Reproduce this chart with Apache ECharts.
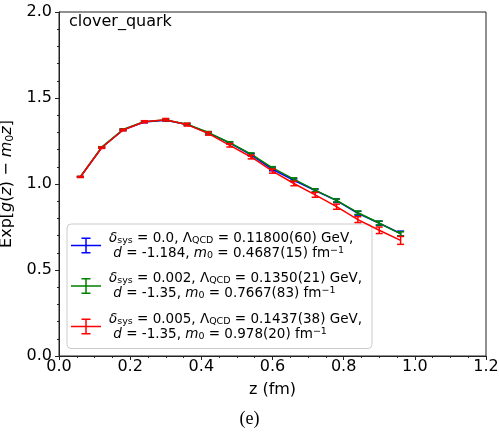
<!DOCTYPE html>
<html>
<head>
<meta charset="utf-8">
<script src="https://cdn.jsdelivr.net/npm/echarts@6/dist/echarts.min.js"></script>
<style>
  html, body { margin: 0; padding: 0; background: #fff; }
  #chart { width: 499px; height: 436px; }
</style>
</head>
<body>
<div id="chart"></div>
<script>
// Separation z (fm)
const zValues = [0.06, 0.12, 0.18, 0.24, 0.30, 0.36, 0.42, 0.48, 0.54, 0.60, 0.66, 0.72, 0.78, 0.84, 0.90, 0.96];

// Exp[g(z) - m0 z] for three values of delta_sys
const blueVals  = [1.041, 1.212, 1.315, 1.360, 1.370, 1.346, 1.297, 1.238, 1.170, 1.085, 1.022, 0.962, 0.903, 0.830, 0.772, 0.712];
const blueErr   = [0.002, 0.003, 0.004, 0.004, 0.005, 0.005, 0.006, 0.006, 0.007, 0.008, 0.008, 0.009, 0.010, 0.011, 0.012, 0.014];
const greenVals = [1.042, 1.214, 1.317, 1.363, 1.372, 1.348, 1.299, 1.240, 1.174, 1.094, 1.028, 0.964, 0.905, 0.833, 0.773, 0.710];
const greenErr  = [0.002, 0.003, 0.004, 0.004, 0.005, 0.005, 0.006, 0.006, 0.007, 0.007, 0.008, 0.008, 0.009, 0.010, 0.011, 0.012];
const redVals   = [1.041, 1.211, 1.314, 1.362, 1.374, 1.345, 1.293, 1.225, 1.157, 1.075, 1.003, 0.937, 0.868, 0.793, 0.731, 0.672];
const redErr    = [0.003, 0.004, 0.005, 0.006, 0.007, 0.008, 0.009, 0.010, 0.011, 0.012, 0.013, 0.014, 0.015, 0.017, 0.019, 0.023];

const xTicks = [0.0, 0.2, 0.4, 0.6, 0.8, 1.0, 1.2];
const yTicks = [0.0, 0.5, 1.0, 1.5, 2.0];

const seriesNames = ['blue', 'green', 'red'];
const seriesColors = ['#0000ff', '#008000', '#ff0000'];
const seriesVals = [blueVals, greenVals, redVals];
const seriesErrs = [blueErr, greenErr, redErr];

// Legend labels (rich text)
const legendText = {
  blue:  '{i|δ}{sub|sys}{n| = 0.0, Λ}{sub|QCD}{n| = 0.11800(60) GeV,}\n{n| }{i|d}{n| = -1.184, }{i|m}{sub|0}{n| = 0.4687(15) fm}{sup|−1}',
  green: '{i|δ}{sub|sys}{n| = 0.002, Λ}{sub|QCD}{n| = 0.1350(21) GeV,}\n{n| }{i|d}{n| = -1.35, }{i|m}{sub|0}{n| = 0.7667(83) fm}{sup|−1}',
  red:   '{i|δ}{sub|sys}{n| = 0.005, Λ}{sub|QCD}{n| = 0.1437(38) GeV,}\n{n| }{i|d}{n| = -1.35, }{i|m}{sub|0}{n| = 0.978(20) fm}{sup|−1}'
};

const FONT = 'DejaVu Sans';
const legendFs = 13.5;

// Error-bar glyph used as legend icon
const errIcon = 'path://M0,7.25h30v1.5h-30Z M14.25,0h1.5v16h-1.5Z M10.5,0h9v1.5h-9Z M10.5,14.5h9v1.5h-9Z';

const series = [];
seriesNames.forEach((name, k) => {
  const pts = zValues.map((z, i) => [z, seriesVals[k][i]]);
  const bars = zValues.map((z, i) => [z, seriesVals[k][i], seriesErrs[k][i]]);
  series.push({
    name: name,
    type: 'line',
    data: pts,
    showSymbol: false,
    symbol: 'none',
    color: seriesColors[k],
    lineStyle: { width: 1.5, color: seriesColors[k] },
    z: 2 + k,
    animation: false
  });
  series.push({
    name: name,
    type: 'custom',
    data: bars,
    color: seriesColors[k],
    z: 2 + k,
    animation: false,
    renderItem: function (params, api) {
      const x = api.value(0), y = api.value(1), e = api.value(2);
      const top = api.coord([x, y + e]);
      const bot = api.coord([x, y - e]);
      const c = seriesColors[k];
      const st = { stroke: c, lineWidth: 1.5 };
      return {
        type: 'group',
        children: [
          { type: 'line', shape: { x1: top[0], y1: top[1], x2: bot[0], y2: bot[1] }, style: st },
          { type: 'line', shape: { x1: top[0] - 3.5, y1: top[1], x2: top[0] + 3.5, y2: top[1] }, style: st },
          { type: 'line', shape: { x1: bot[0] - 3.5, y1: bot[1], x2: bot[0] + 3.5, y2: bot[1] }, style: st }
        ]
      };
    }
  });
});

const richLegend = {
  n:   { fontFamily: FONT, fontSize: legendFs, lineHeight: 15, color: '#000' },
  i:   { fontFamily: FONT, fontSize: legendFs, fontStyle: 'italic', lineHeight: 15, color: '#000' },
  sub: { fontFamily: FONT, fontSize: 9.5, lineHeight: 6, verticalAlign: 'bottom', color: '#000' },
  sup: { fontFamily: FONT, fontSize: 9.5, lineHeight: 6, verticalAlign: 'top', color: '#000' }
};

const chart = echarts.init(document.getElementById('chart'), null, { renderer: 'canvas' });
chart.setOption({
  animation: false,
  backgroundColor: '#fff',
  title: {
    text: 'clover_quark',
    left: 69,
    top: 14,
    padding: 0,
    textStyle: { fontFamily: FONT, fontSize: 16, fontWeight: 'normal', color: '#000' }
  },
  grid: {
    left: 59, right: 13, top: 12, bottom: 80,
    containLabel: false,
    outerBoundsMode: 'none',
    show: true, borderColor: '#222', borderWidth: 1, backgroundColor: 'transparent'
  },
  xAxis: {
    type: 'value',
    min: xTicks[0],
    max: xTicks[xTicks.length - 1],
    interval: 0.2,
    name: 'z (fm)',
    nameLocation: 'middle',
    nameGap: 26,
    nameTextStyle: { fontFamily: FONT, fontSize: 16, color: '#000' },
    axisLine: { show: true, lineStyle: { color: '#222', width: 1 } },
    axisTick: { show: true, inside: false, length: 4, lineStyle: { color: '#222' } },
    minorTick: { show: true, splitNumber: 4, length: 2, lineStyle: { color: '#222' } },
    splitLine: { show: false },
    axisLabel: {
      margin: 3,
      fontFamily: FONT, fontSize: 16, color: '#000',
      formatter: v => v.toFixed(1)
    }
  },
  yAxis: {
    type: 'value',
    min: yTicks[0],
    max: yTicks[yTicks.length - 1],
    interval: 0.5,
    name: '{n|Exp[}{i|g}{n|(}{i|z}{n|) − }{i|m}{sub|0}{i|z}{n|]}',
    nameLocation: 'middle',
    nameGap: 30,
    nameTextStyle: {
      rich: {
        n:   { fontFamily: FONT, fontSize: 16, color: '#000', lineHeight: 18 },
        i:   { fontFamily: FONT, fontSize: 16, fontStyle: 'italic', color: '#000', lineHeight: 18 },
        sub: { fontFamily: FONT, fontSize: 11, color: '#000', lineHeight: 8, verticalAlign: 'bottom' }
      }
    },
    axisLine: { show: true, lineStyle: { color: '#222', width: 1 } },
    axisTick: { show: true, inside: false, length: 4, lineStyle: { color: '#222' } },
    minorTick: { show: true, splitNumber: 5, length: 2, lineStyle: { color: '#222' } },
    splitLine: { show: false },
    axisLabel: {
      margin: 7,
      fontFamily: FONT, fontSize: 16, color: '#000',
      formatter: v => v.toFixed(1)
    }
  },
  legend: {
    data: seriesNames.map(n => ({ name: n, icon: errIcon })),
    orient: 'vertical',
    left: 67,
    top: 224,
    padding: [7, 10, 7, 4],
    itemGap: 11,
    itemWidth: 30,
    itemHeight: 16,
    backgroundColor: 'rgba(255,255,255,0.8)',
    borderColor: '#cccccc',
    borderWidth: 1,
    borderRadius: 4,
    selectedMode: false,
    formatter: name => legendText[name],
    textStyle: { padding: [0, 0, 0, 3], rich: richLegend }
  },
  graphic: [
    {
      type: 'text',
      left: 'center',
      top: 410,
      style: { text: '(e)', fontFamily: 'Liberation Serif', fontSize: 18, fill: '#000' }
    }
  ],
  series: series
});
</script>
</body>
</html>
